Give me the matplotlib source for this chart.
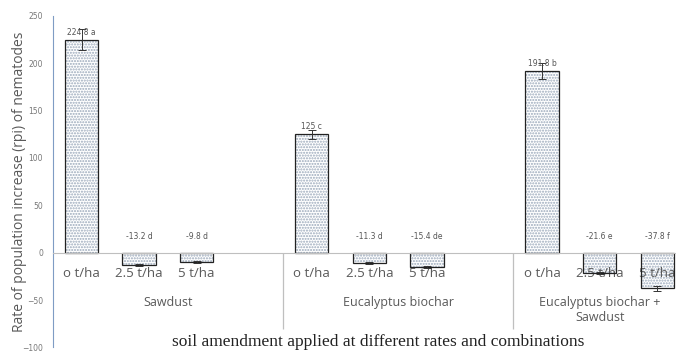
# Tasa de incremento poblacional de nematodos según enmienda del suelo
from matplotlib import pyplot as plt

# Datos
rates = ['o t/ha', '2.5 t/ha', '5 t/ha',
         'o t/ha', '2.5 t/ha', '5 t/ha',
         'o t/ha', '2.5 t/ha', '5 t/ha']
groups = ['Sawdust', 'Eucalyptus biochar', 'Eucalyptus biochar +\nSawdust']
rpi = [224.8, -13.2, -9.8, 125, -11.3, -15.4, 191.8, -21.6, -37.8]
errors = [11, 1, 1, 5, 1, 1, 8, 1, 3]
letters = ['a', 'd', 'd', 'c', 'd', 'de', 'b', 'e', 'f']

# Posiciones: cada grupo ocupa 4 huecos (el último vacío)
pos = [0, 1, 2, 4, 5, 6, 8, 9, 10]
group_centers = [1.5, 5.5, 9.0]
separators = [3.5, 7.5]

fig = plt.figure(figsize=(6.76, 3.52), dpi=100)
ax = fig.add_axes([0.078, 0.013, 0.93, 0.942])

# Ejes: la línea inferior pasa por el cero (antes de fijar los ticks)
for s in ['top', 'right']:
    ax.spines[s].set_visible(False)
ax.spines['bottom'].set_position(('data', 0))
ax.spines['bottom'].set_color('#bfbfbf')
ax.spines['left'].set_color('#7f9cc4')

# Relleno punteado y borde negro por separado (debajo de las etiquetas)
ax.bar(pos, rpi, width=0.58, color='white', edgecolor='#9aa8ba',
       hatch='......', linewidth=0, zorder=1.5)
ax.bar(pos, rpi, width=0.58, color='none', edgecolor='#222222',
       linewidth=0.9, zorder=1.6)
ax.errorbar(pos, rpi, yerr=errors, fmt='none', ecolor='#333333',
            elinewidth=0.7, capsize=3, capthick=0.7, zorder=1.8)

for p, v, e, l in zip(pos, rpi, errors, letters):
    if v > 0:
        y = v + 3
    else:
        y = 12
    ax.text(p, y, f'{v:g} {l}', ha='center', va='bottom', fontsize=5.5,
            color='#555555', zorder=5)

ax.set_ylim(-100, 250)
ax.set_xlim(-0.5, 10.42)
ax.set_yticks(range(-100, 251, 50))
ax.tick_params(axis='y', length=0, labelsize=5.5, labelcolor='#777777',
               pad=7)
ax.set_xticks(pos)
ax.set_xticklabels(rates, fontsize=9.5, family='Open Sans', color='#595959')
ax.tick_params(axis='x', length=0, pad=10)

ax.vlines(separators, -81, 0, color='#bfbfbf', linewidth=0.9)
for c, g in zip(group_centers, groups):
    ax.text(c, -46, g, ha='center', va='top', fontsize=9,
            family='Open Sans', color='#595959', linespacing=1.15)

ax.set_ylabel('Rate of population increase (rpi) of nematodes',
              fontsize=10, family='Open Sans', color='#595959')
ax.yaxis.set_label_coords(-0.041, 0.5)
fig.text(0.56, 0.028, 'soil amendment applied at different rates and '
         'combinations', ha='center', va='center', fontsize=12.5,
         family='Liberation Serif', color='#222222')

plt.savefig('out.png', dpi=100)
